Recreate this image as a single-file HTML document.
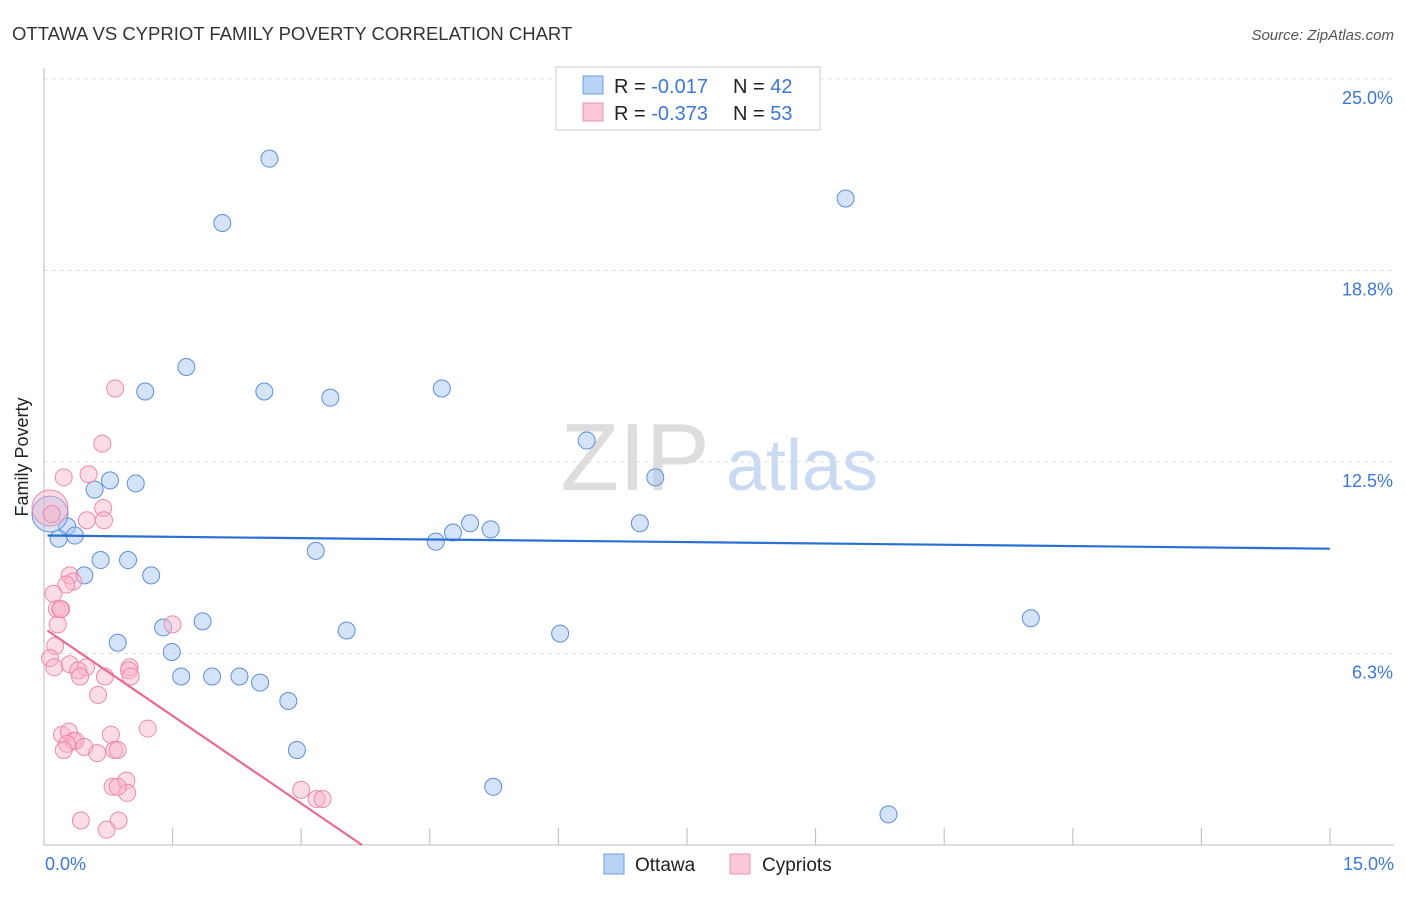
<!DOCTYPE html>
<html><head><meta charset="utf-8"><style>
body{margin:0;background:#fff;font-family:"Liberation Sans",sans-serif;}
svg text{font-family:"Liberation Sans",sans-serif;}
</style></head><body>
<svg id="chart" width="1406" height="892">
<text x="12" y="40" font-size="18.5" fill="#333">OTTAWA VS CYPRIOT FAMILY POVERTY CORRELATION CHART</text>
<text x="1394" y="40" font-size="15" fill="#555" font-style="italic" text-anchor="end">Source: ZipAtlas.com</text>
<g>
<text x="635" y="490" font-size="96" fill="#ddd" font-family="Liberation Serif" text-anchor="middle">ZIP</text>
<text x="802" y="490" font-size="72" fill="#c9daf2" text-anchor="middle">atlas</text>
</g>
<g id="grid"></g>
<line x1="44" y1="68" x2="44" y2="845" stroke="#bbb"/>
<line x1="44" y1="845" x2="1394" y2="845" stroke="#bbb"/>
<g id="xticks"></g>
<text x="28" y="457" font-size="18" fill="#222" transform="rotate(-90 28 457)" text-anchor="middle">Family Poverty</text>
<text x="45" y="870" font-size="18" fill="#3b78d8">0.0%</text>
<text x="1394" y="870" font-size="18" fill="#3b78d8" text-anchor="end">15.0%</text>
<g id="pts"></g>
<g id="lines"></g>
<g>
<rect x="556" y="67" width="264" height="63" fill="#fff" stroke="#ccc"/>
<rect x="583" y="76" width="20" height="18" fill="#b9d3f5" stroke="#6d9ee6"/>
<rect x="583" y="103" width="20" height="18" fill="#fbc8d7" stroke="#ee93b0"/>
<text x="614" y="93" font-size="20" fill="#222">R = <tspan fill="#3b78d8">-0.017</tspan><tspan x="733">N = </tspan><tspan fill="#3b78d8">42</tspan></text>
<text x="614" y="120" font-size="20" fill="#222">R = <tspan fill="#3b78d8">-0.373</tspan><tspan x="733">N = </tspan><tspan fill="#3b78d8">53</tspan></text>
</g>
<g>
<rect x="604" y="854" width="20" height="20" fill="#b9d3f5" stroke="#6d9ee6"/>
<text x="635" y="871" font-size="19" fill="#222">Ottawa</text>
<rect x="730" y="854" width="20" height="20" fill="#fbc8d7" stroke="#ee93b0"/>
<text x="762" y="871" font-size="19" fill="#222">Cypriots</text>
</g>
</svg>
<script>
const yTicks=[25.0,18.75,12.5,6.25];
const yTickLabels=["25.0%","18.8%","12.5%","6.3%"];
const ottawaX=[2.63,2.08,9.35,1.66,1.18,2.57,3.34,4.64,6.33,7.13,0.77,1.07,0.59,4.97,5.21,6.95,4.77,4.57,0.27,0.17,0.36,3.17,0.66,0.98,0.47,1.25,11.51,1.85,1.39,3.53,6.02,0.86,1.49,1.60,1.96,2.28,2.52,2.85,2.95,5.24,9.85,0.07];
const ottawaY=[22.4,20.3,21.1,15.6,14.8,14.8,14.6,14.9,13.2,12.0,11.9,11.8,11.6,10.5,10.3,10.5,10.2,9.9,10.4,10.0,10.1,9.6,9.3,9.3,8.8,8.8,7.4,7.3,7.1,7.0,6.9,6.6,6.3,5.5,5.5,5.5,5.3,4.7,3.1,1.9,1.0,10.8];
const cypX=[0.83,0.68,0.23,0.52,0.69,0.50,0.70,0.07,0.09,0.30,0.34,0.26,0.11,0.15,0.20,0.16,1.50,0.13,0.07,0.12,0.30,0.49,0.40,0.42,0.71,1.00,0.99,1.01,0.63,1.21,0.21,0.29,0.34,0.37,0.27,0.23,0.47,0.62,0.78,0.82,0.86,0.80,0.96,0.97,0.86,3.00,3.18,3.25,0.43,0.87,0.73,0.19];
const cypY=[14.9,13.1,12.0,12.1,11.0,10.6,10.6,11.0,10.8,8.8,8.6,8.5,8.2,7.7,7.7,7.2,7.2,6.5,6.1,5.8,5.9,5.8,5.7,5.5,5.5,5.8,5.7,5.5,4.9,3.8,3.6,3.7,3.4,3.4,3.3,3.1,3.2,3.0,3.6,3.1,3.1,1.9,2.1,1.7,1.9,1.8,1.5,1.5,0.8,0.8,0.5,7.7];
const ottawaFit=[10.1,9.67];
const cypFit=[7.0,0.0];
const fitX=[[0.04,15.0],[0.04,3.71]];
const xMax=15,yMax=25;
const L=44,R=1330,T=79,B=845;
const sx=v=>L+v/xMax*(R-L), sy=v=>B-v/yMax*(B-T);
const NS="http://www.w3.org/2000/svg";
const mk=(t,a,p)=>{const e=document.createElementNS(NS,t);for(const k in a)e.setAttribute(k,a[k]);p.appendChild(e);return e;};
const grid=document.getElementById('grid');
yTicks.forEach((v,i)=>{
 const l=mk('line',{x1:L,x2:1394,y1:sy(v),y2:sy(v),stroke:'#ddd','stroke-dasharray':'4,4'},grid);
 
 
 const t=mk('text',{x:1393,y:sy(v)+25,'font-size':18,fill:'#3b78d8','text-anchor':'end'},grid);
 t.textContent=yTickLabels[i];
 
 
});
const xt=document.getElementById('xticks');
for(let i=0;i<=10;i++){
 const x=sx(i*1.5);
 const l=mk('line',{x1:x,x2:x,y1:828,y2:845,stroke:'#bbb'},xt);
 
 
}
const pts=document.getElementById('pts');
ottawaX.forEach((x,i)=>{
 const big=i===ottawaX.length-1;
 const c=mk('circle',{cx:sx(x),cy:sy(ottawaY[i]),r:big?18:8.5,fill:'#a9c8f0','fill-opacity':0.5,stroke:'#5b8fe0','stroke-width':1},pts);
 
 
});
cypX.forEach((x,i)=>{
 const big=i===7;
 const c=mk('circle',{cx:sx(x),cy:sy(cypY[i]),r:big?18:8.5,fill:'#f8b4c9','fill-opacity':0.45,stroke:'#ec8aab','stroke-width':1},pts);
 
 
});
const ln=document.getElementById('lines');
const b=mk('line',{x1:sx(fitX[0][0]),y1:sy(ottawaFit[0]),x2:sx(fitX[0][1]),y2:sy(ottawaFit[1]),stroke:'#2a6fd6','stroke-width':2.2},ln);


const p=mk('line',{x1:sx(fitX[1][0]),y1:sy(cypFit[0]),x2:sx(fitX[1][1]),y2:sy(cypFit[1]),stroke:'#e66a94','stroke-width':2.2},ln);


</script>
</body></html>
